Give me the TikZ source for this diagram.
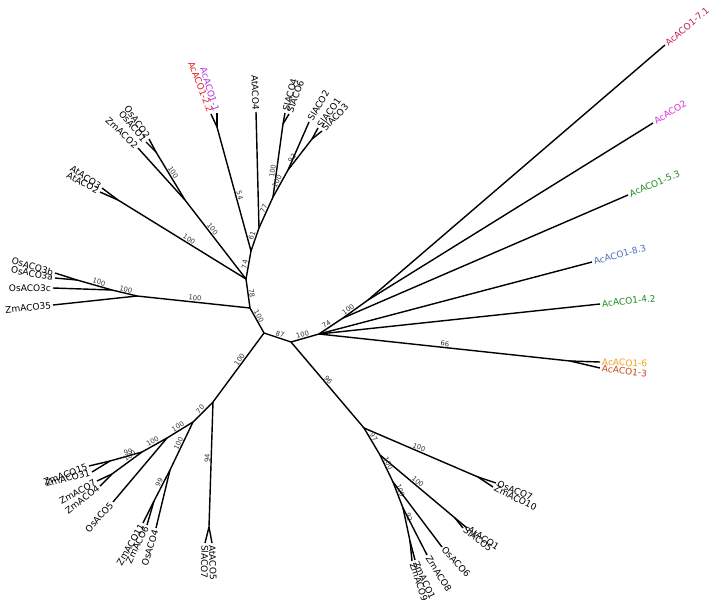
\documentclass[tikz,border=0pt]{standalone}
\usepackage{fontspec}
\setmainfont{DejaVu Sans}
\definecolor{acrasp}{RGB}{192,28,92}
\definecolor{acmag}{RGB}{222,48,222}
\definecolor{acgreen}{RGB}{30,140,30}
\definecolor{acblue}{RGB}{74,110,180}
\definecolor{acorange}{RGB}{240,160,32}
\definecolor{acbrown}{RGB}{192,74,16}
\definecolor{acpurple}{RGB}{176,48,224}
\definecolor{acred}{RGB}{226,32,32}

\begin{document}
\begin{tikzpicture}[x=0.03cm, y=-0.03cm, line width=1.2pt,
  leafR/.style={anchor=west, inner sep=1.2pt, font=\fontsize{7.7}{9}\selectfont},
  leafL/.style={anchor=east, inner sep=1.2pt, font=\fontsize{7.7}{9}\selectfont},
  bs/.style={sloped, above, inner sep=0.6pt, font=\fontsize{5.8}{7}\selectfont, text=black!80}]

\useasboundingbox (0,0) rectangle (717,607);

% internal nodes
\coordinate (c0) at (264,333);
\coordinate (c1) at (291,342);
\coordinate (a1) at (250,308);
\coordinate (a2) at (246,279);
\coordinate (a3) at (251,251);
\coordinate (a4) at (259,228);
\coordinate (sl) at (273,197);
\coordinate (sl46) at (283,124);
\coordinate (slt) at (288,170);
\coordinate (sl13) at (312,139);
\coordinate (ac12) at (217,127);
\coordinate (z2) at (185,200);
\coordinate (os12) at (156,152);
\coordinate (at23) at (118,200);
\coordinate (p3) at (137,296);
\coordinate (p2) at (112,290);
\coordinate (p1) at (77,280);
\coordinate (q0) at (213,402);
\coordinate (q1) at (193,422);
\coordinate (sa) at (209,527);
\coordinate (r1) at (167,438);
\coordinate (r2) at (142,452);
\coordinate (r3) at (110,461);
\coordinate (r4) at (112,474);
\coordinate (q2) at (170,470);
\coordinate (q3) at (154,501);
\coordinate (w1) at (319,334);
\coordinate (w2) at (343,318);
\coordinate (w3) at (368,300);
\coordinate (w4) at (570,361);
\coordinate (b1) at (364,428);
\coordinate (op) at (478,477);
\coordinate (v1) at (380,455);
\coordinate (atsl) at (455,518);
\coordinate (v2) at (393,482);
\coordinate (v3) at (403,508);
\coordinate (v4) at (410,541);

% leaves, right side
\node[leafR, rotate=40, text=acrasp] (ac71) at (665,45) {AcACO1-7.1};
\node[leafR, rotate=32, text=acmag] (ac2) at (653,123) {AcACO2};
\node[leafR, rotate=23, text=acgreen] (ac53) at (628,195) {AcACO1-5.3};
\node[leafR, rotate=15, text=acblue] (ac83) at (592,262) {AcACO1-8.3};
\node[leafR, rotate=6, text=acgreen] (ac42) at (600,304) {AcACO1-4.2};
\node[leafR, rotate=-2, text=acorange] (ac6) at (600,362) {AcACO1-6};
\node[leafR, rotate=-7, text=acbrown] (ac3) at (600,368) {AcACO1-3};
\node[leafR, rotate=-22] (osaco7) at (496,483) {OsACO7};
\node[leafR, rotate=-26] (zmaco10) at (493,487) {ZmACO10};
\node[leafR, rotate=-32] (ataco1) at (467,528) {AtACO1};
\node[leafR, rotate=-37] (slaco5) at (463,528) {SlACO5};
\node[leafR, rotate=-47] (osaco6) at (442,547) {OsACO6};
\node[leafR, rotate=-58] (zmaco8) at (427,555) {ZmACO8};
\node[leafR, rotate=-65] (zmaco1) at (415,560) {ZmACO1};
\node[leafR, rotate=-72] (zmaco9) at (412,561) {ZmACO9};
\node[leafR, rotate=-88] (ataco5) at (212,543) {AtACO5};
\node[leafR, rotate=-91] (slaco7) at (205,543) {SlACO7};
\node[leafR, rotate=75] (slaco4) at (285,113) {SlACO4};
\node[leafR, rotate=70] (slaco6) at (289,114) {SlACO6};
\node[leafR, rotate=60] (slaco2) at (309,122) {SlACO2};
\node[leafR, rotate=54] (slaco1) at (318,128) {SlACO1};
\node[leafR, rotate=46] (slaco3) at (322,131) {SlACO3};

% leaves, left side
\node[leafL, rotate=73] (osaco4) at (156,528) {OsACO4};
\node[leafL, rotate=64] (zmaco6) at (147,525) {ZmACO6};
\node[leafL, rotate=60] (zmaco11) at (143,523) {ZmACO11};
\node[leafL, rotate=48] (osaco5) at (113,502) {OsACO5};
\node[leafL, rotate=37] (zmaco4) at (100,486) {ZmACO4};
\node[leafL, rotate=29] (zmaco7) at (97,481) {ZmACO7};
\node[leafL, rotate=14] (zmaco31) at (92,472) {ZmACO31};
\node[leafL, rotate=20] (zmaco15) at (89,466) {ZmACO15};
\node[leafL, rotate=6] (zmaco35) at (53,305) {ZmACO35};
\node[leafL] (osaco3c) at (53,288) {OsACO3c};
\node[leafL, rotate=-11] (osaco3a) at (55,278) {OsACO3a};
\node[leafL, rotate=-16] (osaco3b) at (55,273) {OsACO3b};
\node[leafL, rotate=-28] (ataco2) at (100,192) {AtACO2};
\node[leafL, rotate=-33] (ataco3) at (102,188) {AtACO3};
\node[leafL, rotate=-43] (zmaco2) at (138,148) {ZmACO2};
\node[leafL, rotate=-50] (osaco1) at (146,142) {OsACO1};
\node[leafL, rotate=-55] (osaco2) at (149,139) {OsACO2};
\node[leafL, rotate=-69, text=acred] (ac22) at (211,114) {AcACO1-2.2};
\node[leafL, rotate=-73, text=acpurple] (ac11) at (217,113) {AcACO1-1};
\node[leafL, rotate=-88] (ataco4) at (256,112) {AtACO4};

% backbone
\draw (c0) -- node[bs, pos=.55] {87} (c1);
\draw (c0) -- node[bs, pos=.6] {100} (a1);
\draw (a1) -- node[bs, pos=.5] {78} (a2);
\draw (a2) -- node[bs, pos=.5] {74} (a3);
\draw (a3) -- node[bs, pos=.6] {61} (a4);
\draw (a4) -- node[bs, pos=.58] {77} (sl);
\draw (sl) -- node[bs, pos=.35] {100} (sl46);
\draw (sl) -- node[bs, pos=.5] {100} (slt);
\draw (slt) -- node[bs, pos=.3] {92} (sl13);
\draw (a3) -- node[bs, pos=.44] {54} (ac12);
\draw (a2) -- node[bs, pos=.6] {100} (z2);
\draw (z2) -- node[bs, pos=.53] {100} (os12);
\draw (a2) -- node[bs, pos=.46] {100} (at23);
\draw (a1) -- node[bs, pos=.49] {100} (p3);
\draw (p3) -- node[bs, pos=.48] {100} (p2);
\draw (p2) -- node[bs, pos=.4] {100} (p1);
\draw (c0) -- node[bs, pos=.42] {100} (q0);
\draw (q0) -- node[bs, pos=.5] {70} (q1);
\draw (q0) -- node[bs, pos=.45] {94} (sa);
\draw (q1) -- node[bs, pos=.5] {100} (r1);
\draw (q1) -- node[bs, pos=.48] {100} (q2);
\draw (q2) -- node[bs, pos=.45] {99} (q3);
\draw (r1) -- node[bs, pos=.5] {100} (r2);
\draw (r2) -- node[bs, pos=.4] {99} (r3);
\draw (r2) -- node[bs, pos=.33] {100} (r4);
\draw (c1) -- node[bs, pos=.45] {100} (w1);
\draw (w1) -- node[bs, pos=.4] {74} (w2);
\draw (w2) -- node[bs, pos=.3] {100} (w3);
\draw (w1) -- node[bs, pos=.5] {66} (w4);
\draw (c1) -- node[bs, pos=.47] {96} (b1);
\draw (b1) -- node[bs, pos=.47] {100} (op);
\draw (b1) -- node[bs, pos=.4] {97} (v1);
\draw (v1) -- node[bs, pos=.47] {100} (atsl);
\draw (v1) -- node[bs, pos=.37] {100} (v2);
\draw (v2) -- node[bs, pos=.38] {100} (v3);
\draw (v3) -- node[bs, pos=.3] {92} (v4);

% terminal branches
\draw (w3) -- (ac71.west);
\draw (w3) -- (ac2.west);
\draw (w2) -- (ac53.west);
\draw (w1) -- (ac83.west);
\draw (w1) -- (ac42.west);
\draw (w4) -- (ac6.west);
\draw (w4) -- (ac3.west);
\draw (op) -- (osaco7.west);
\draw (op) -- (zmaco10.west);
\draw (atsl) -- (ataco1.west);
\draw (atsl) -- (slaco5.west);
\draw (v2) -- (osaco6.west);
\draw (v3) -- (zmaco8.west);
\draw (v4) -- (zmaco1.west);
\draw (v4) -- (zmaco9.west);
\draw (sa) -- (ataco5.west);
\draw (sa) -- (slaco7.west);
\draw (sl46) -- (slaco4.west);
\draw (sl46) -- (slaco6.west);
\draw (slt) -- (slaco2.west);
\draw (sl13) -- (slaco1.west);
\draw (sl13) -- (slaco3.west);
\draw (q2) -- (osaco4.east);
\draw (q3) -- (zmaco6.east);
\draw (q3) -- (zmaco11.east);
\draw (r1) -- (osaco5.east);
\draw (r4) -- (zmaco4.east);
\draw (r4) -- (zmaco7.east);
\draw (r3) -- (zmaco31.east);
\draw (r3) -- (zmaco15.east);
\draw (p3) -- (zmaco35.east);
\draw (p2) -- (osaco3c.east);
\draw (p1) -- (osaco3a.east);
\draw (p1) -- (osaco3b.east);
\draw (at23) -- (ataco2.east);
\draw (at23) -- (ataco3.east);
\draw (z2) -- (zmaco2.east);
\draw (os12) -- (osaco1.east);
\draw (os12) -- (osaco2.east);
\draw (ac12) -- (ac22.east);
\draw (ac12) -- (ac11.east);
\draw (a4) -- (ataco4.east);

\end{tikzpicture}
\end{document}
